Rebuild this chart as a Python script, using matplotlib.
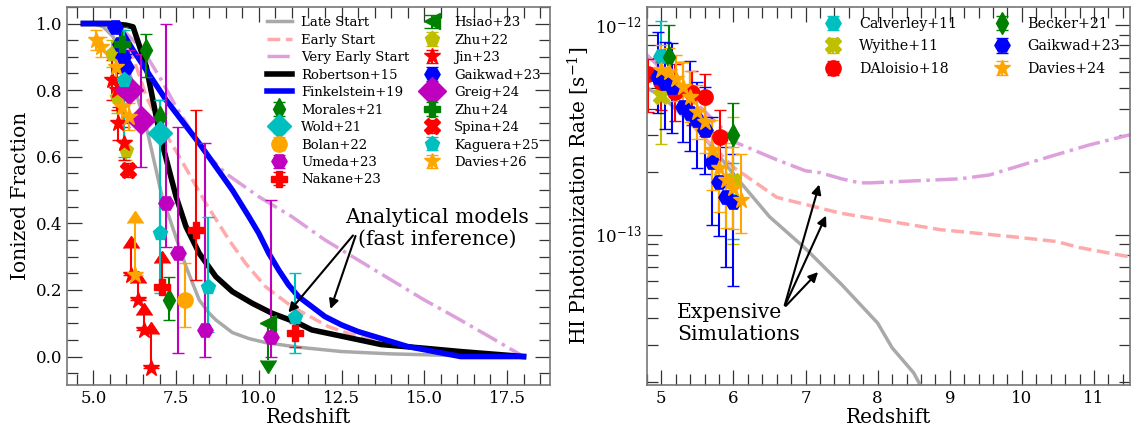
import numpy as np
import matplotlib
matplotlib.use('Agg')
import matplotlib.pyplot as plt
from matplotlib.ticker import MultipleLocator, NullFormatter, LogLocator

plt.rcParams['font.family'] = 'DejaVu Serif'
plt.rcParams['mathtext.fontset'] = 'dejavuserif'
plt.rcParams['xtick.direction'] = 'in'
plt.rcParams['ytick.direction'] = 'in'
plt.rcParams['xtick.top'] = True
plt.rcParams['ytick.right'] = True

# ---------------- left panel: ionized fraction models ----------------
late_z = [4.7, 5.0, 5.3, 5.6, 5.9, 6.2, 6.6, 7.1, 7.25, 7.8, 8.2, 8.5, 8.7, 9.2, 9.7, 10.2, 11.2, 12.5, 14.0, 16.0, 18.0]
late_x = [1.0, 1.0, 0.99, 0.96, 0.9, 0.82, 0.69, 0.47, 0.43, 0.27, 0.17, 0.13, 0.11, 0.072, 0.054, 0.042, 0.028, 0.015, 0.008, 0.003, 0.0]
early_z = [4.7, 5.3, 5.8, 6.2, 6.6, 7.0, 7.6, 8.0, 8.4, 9.1, 9.6, 10.2, 11.0, 12.1, 12.7, 13.5, 15.1, 16.5, 18.0]
early_x = [1.0, 1.0, 0.97, 0.9, 0.78, 0.7, 0.6, 0.53, 0.46, 0.35, 0.28, 0.21, 0.15, 0.09, 0.07, 0.045, 0.02, 0.008, 0.0]
vearly_z = [4.7, 5.5, 6.0, 6.5, 7.0, 7.5, 8.0, 8.4, 9.0, 10.0, 11.0, 12.0, 13.0, 14.0, 15.0, 16.0, 17.0, 18.0]
vearly_x = [1.0, 1.0, 0.97, 0.92, 0.84, 0.75, 0.67, 0.61, 0.55, 0.48, 0.42, 0.35, 0.29, 0.23, 0.17, 0.115, 0.058, 0.0]
rob_z = [4.7, 5.5, 6.0, 6.2, 6.6, 7.0, 7.5, 7.8, 8.2, 8.7, 9.2, 9.8, 10.4, 11.2, 11.6, 12.7, 13.7, 15.0, 16.1, 18.0]
rob_x = [1.0, 1.0, 0.995, 0.99, 0.87, 0.67, 0.48, 0.39, 0.31, 0.24, 0.195, 0.16, 0.13, 0.1, 0.08, 0.057, 0.036, 0.025, 0.015, 0.0]
fink_z = [4.7, 5.5, 5.9, 6.2, 7.2, 8.2, 9.2, 9.7, 10.0, 10.3, 10.6, 10.9, 11.2, 11.6, 12.0, 12.5, 13.0, 13.5, 14.5, 15.3, 16.1, 18.0]
fink_x = [1.0, 1.0, 0.97, 0.92, 0.77, 0.64, 0.5, 0.42, 0.37, 0.31, 0.26, 0.215, 0.18, 0.15, 0.12, 0.095, 0.075, 0.06, 0.03, 0.015, 0.0, 0.0]

# ---------------- left panel: observations ----------------
morales_z = [6.6, 7.0, 7.3]
morales_x = [0.92, 0.72, 0.17]
morales_lo = [0.08, 0.05, 0.06]
morales_hi = [0.05, 0.05, 0.07]
wold_z = [7.0]
wold_x = [0.67]
wold_lo = [0.3]
wold_hi = [0.1]
bolan_z = [7.76]
bolan_x = [0.17]
bolan_lo = [0.08]
bolan_hi = [0.11]
umeda_z = [7.2, 7.55, 8.36, 10.36]
umeda_x = [0.46, 0.31, 0.08, 0.06]
umeda_lo = [0.13, 0.30, 0.08, 0.06]
umeda_hi = [0.54, 0.38, 0.56, 0.41]
nakane_z = [8.1, 11.1]
nakane_x = [0.38, 0.07]
nakane_lo = [0.15, 0.04]
nakane_hi = [0.36, 0.03]
nakane_lim_z = [7.06]
nakane_lim_x = [0.21]
nakane_lim_len = [0.07]
hsiao_z = [10.27]
hsiao_x = [0.1]
hsiao_len = [0.11]
zhu22_z = [5.55, 5.7, 6.0]
zhu22_x = [0.91, 0.78, 0.62]
zhu22_err = [0.04, 0.05, 0.03]
jin_z = [5.57, 5.7, 5.73, 5.94]
jin_x = [0.83, 0.8, 0.7, 0.64]
jin_err = [0.06, 0.06, 0.05, 0.05]
jin_lim_z = [6.15, 6.36, 6.54, 6.75]
jin_lim_x = [0.246, 0.17, 0.08, -0.033]
jin_lim_len = [0.08, 0.05, 0.045, 0.1]
gaik_z = [5.65, 5.8, 5.9, 6.0]
gaik_x = [0.99, 0.94, 0.9, 0.87]
gaik_err = [0.01, 0.04, 0.05, 0.04]
greig_z = [6.09, 6.45]
greig_x = [0.8, 0.71]
greig_lo = [0.1, 0.14]
greig_hi = [0.12, 0.2]
zhu24_z = [5.85]
zhu24_x = [0.94]
zhu24_err = [0.05]
spina_z = [6.06]
spina_x = [0.56]
spina_err = [0.02]
kag_z = [5.94, 7.0, 8.45, 11.08]
kag_x = [0.83, 0.37, 0.21, 0.12]
kag_lo = [0.23, 0.18, 0.135, 0.11]
kag_hi = [0.15, 0.30, 0.21, 0.13]
dav26_z = [5.09, 5.24, 5.69, 5.88, 6.09]
dav26_x = [0.95, 0.93, 0.87, 0.75, 0.72]
dav26_err = [0.03, 0.03, 0.04, 0.04, 0.04]
dav26_lim_z = [6.27]
dav26_lim_x = [0.246]
dav26_lim_len = [0.155]

# ---------------- right panel: photoionization rate ----------------
g_late_z = [4.8, 5.0, 5.5, 6.0, 6.5, 7.0, 7.5, 8.0, 8.2, 8.5, 8.6]
g_late = [5.0e-13, 4.6e-13, 3.2e-13, 1.95e-13, 1.22e-13, 8.6e-14, 5.8e-14, 3.8e-14, 2.9e-14, 2.2e-14, 1.9e-14]
g_early_z = [5.2, 5.72, 6.0, 6.6, 7.48, 8.86, 9.87, 10.48, 10.8, 11.5]
g_early = [4.0e-13, 2.63e-13, 2.1e-13, 1.51e-13, 1.27e-13, 1.06e-13, 9.8e-14, 9.3e-14, 8.7e-14, 7.85e-14]
g_vearly_z = [4.8, 6.05, 6.6, 7.0, 7.2, 7.5, 7.75, 7.9, 9.14, 9.55, 10.24, 10.93, 11.5]
g_vearly = [7.2e-13, 2.74e-13, 2.28e-13, 2.02e-13, 1.98e-13, 1.85e-13, 1.77e-13, 1.77e-13, 1.85e-13, 1.93e-13, 2.28e-13, 2.68e-13, 3.0e-13]

calv_z = [5.0, 6.0]
calv_g = [7.1e-13, 1.45e-13]
calv_lo = [2.2e-13, 0.49e-13]
calv_hi = [3.3e-13, 0.75e-13]
wyithe_z = [5.0, 6.0]
wyithe_g = [4.6e-13, 1.8e-13]
wyithe_lo = [1.9e-13, 0.9e-13]
wyithe_hi = [2.5e-13, 1.85e-13]
dal_z = [4.81, 4.99, 5.19, 5.43, 5.61, 5.82]
dal_g = [5.85e-13, 5.35e-13, 4.8e-13, 4.75e-13, 4.55e-13, 2.93e-13]
dal_lo = [2.0e-13, 1.4e-13, 1.3e-13, 1.4e-13, 1.6e-13, 0.8e-13]
dal_hi = [1.0e-13, 1.3e-13, 1.7e-13, 1.3e-13, 1.3e-13, 1.0e-13]
becker_z = [5.1, 6.0]
becker_g = [7.05e-13, 3.0e-13]
becker_lo = [2.0e-13, 1.3e-13]
becker_hi = [3.0e-13, 1.25e-13]
gaik23_z = [4.95, 5.05, 5.15, 5.3, 5.4, 5.5, 5.6, 5.7, 5.8, 5.9, 6.0]
gaik23_g = [5.65e-13, 5.3e-13, 5.07e-13, 4.07e-13, 3.81e-13, 3.53e-13, 3.16e-13, 2.23e-13, 1.79e-13, 1.52e-13, 1.44e-13]
gaik23_lo = [1.85e-13, 2.1e-13, 2.0e-13, 1.3e-13, 1.3e-13, 1.45e-13, 1.2e-13, 1.11e-13, 0.8e-13, 0.82e-13, 0.87e-13]
gaik23_hi = [3.6e-13, 3.0e-13, 3.1e-13, 2.6e-13, 2.9e-13, 1.8e-13, 1.9e-13, 1.4e-13, 1.3e-13, 1.1e-13, 1.0e-13]
dav24_z = [5.0, 5.1, 5.2, 5.3, 5.4, 5.5, 5.6, 5.7, 5.8, 5.9, 6.0, 6.1]
dav24_g = [6.1e-13, 5.97e-13, 5.53e-13, 5.07e-13, 4.54e-13, 3.85e-13, 3.45e-13, 2.54e-13, 2.08e-13, 1.83e-13, 1.67e-13, 1.47e-13]
dav24_lo = [1.3e-13, 1.3e-13, 1.2e-13, 1.1e-13, 1.1e-13, 1.0e-13, 1.0e-13, 0.9e-13, 0.8e-13, 0.75e-13, 0.6e-13, 0.45e-13]
dav24_hi = [1.9e-13, 1.8e-13, 1.7e-13, 1.6e-13, 1.5e-13, 1.3e-13, 1.2e-13, 1.0e-13, 0.9e-13, 0.9e-13, 0.95e-13, 0.96e-13]


def style_axis(ax):
    for s in ax.spines.values():
        s.set_color('#777777')
        s.set_linewidth(1.2)
    ax.tick_params(which='major', length=11, width=0.9, labelsize=12, color='#333333')
    ax.tick_params(which='minor', length=8, width=0.9, color='#333333')


fig = plt.figure(figsize=(11.34, 4.30), dpi=100)
ax1 = fig.add_axes([0.059, 0.105, 0.426, 0.879])
ax2 = fig.add_axes([0.5705, 0.105, 0.426, 0.879])

# left panel
ax1.plot(late_z, late_x, color='darkgray', lw=2.5, label='Late Start')
ax1.plot(early_z, early_x, color='#ffaaaa', lw=2.5, ls='--', label='Early Start')
ax1.plot(vearly_z, vearly_x, color='plum', lw=2.5, ls='-.', label='Very Early Start')
ax1.plot(rob_z, rob_x, color='k', lw=4, label='Robertson+15')
ax1.plot(fink_z, fink_x, color='b', lw=4, label='Finkelstein+19')

cs = 4
ax1.errorbar(morales_z, morales_x, yerr=[morales_lo, morales_hi], fmt='d', color='g', ms=11, capsize=cs, label='Morales+21')
ax1.errorbar(wold_z, wold_x, yerr=[wold_lo, wold_hi], fmt='D', color='c', ms=12, capsize=cs, label='Wold+21')
ax1.errorbar(bolan_z, bolan_x, yerr=[bolan_lo, bolan_hi], fmt='o', color='orange', ms=11, capsize=cs, label='Bolan+22')
ax1.errorbar(umeda_z, umeda_x, yerr=[umeda_lo, umeda_hi], fmt='H', color='m', ms=11, capsize=cs, label='Umeda+23')
ax1.errorbar(nakane_z, nakane_x, yerr=[nakane_lo, nakane_hi], fmt='P', color='r', ms=11, capsize=cs, label='Nakane+23')
ax1.errorbar(nakane_lim_z, nakane_lim_x, yerr=nakane_lim_len, lolims=True, fmt='P', color='r', ms=11, capsize=6)
ax1.errorbar(hsiao_z, hsiao_x, yerr=hsiao_len, uplims=True, fmt='<', color='g', ms=11, capsize=6, label='Hsiao+23')
ax1.errorbar(zhu22_z, zhu22_x, yerr=zhu22_err, fmt='p', color='y', ms=11, capsize=cs, label='Zhu+22')
ax1.errorbar(jin_z, jin_x, yerr=jin_err, fmt='*', color='r', ms=12, capsize=cs, label='Jin+23')
ax1.errorbar(jin_lim_z, jin_lim_x, yerr=jin_lim_len, lolims=True, fmt='*', color='r', ms=12, capsize=6)
ax1.errorbar(gaik_z, gaik_x, yerr=gaik_err, fmt='H', color='b', ms=11, capsize=cs, label='Gaikwad+23')
ax1.errorbar(greig_z, greig_x, yerr=[greig_lo, greig_hi], fmt='D', color='m', ms=14, capsize=cs, label='Greig+24')
ax1.errorbar(zhu24_z, zhu24_x, yerr=zhu24_err, fmt='P', color='g', ms=11, capsize=cs, label='Zhu+24')
ax1.errorbar(spina_z, spina_x, yerr=spina_err, fmt='X', color='r', ms=12, capsize=cs, label='Spina+24')
ax1.errorbar(kag_z, kag_x, yerr=[kag_lo, kag_hi], fmt='p', color='c', ms=11, capsize=cs, label='Kaguera+25')
ax1.errorbar(dav26_z, dav26_x, yerr=dav26_err, fmt='*', color='orange', ms=12, capsize=cs, label='Davies+26')
ax1.errorbar(dav26_lim_z, dav26_lim_x, yerr=dav26_lim_len, lolims=True, fmt='*', color='orange', ms=12, capsize=6)

ax1.annotate('', xy=(10.84, 0.126), xytext=(12.9, 0.37),
             arrowprops=dict(arrowstyle='-|>', color='k', lw=1.5, mutation_scale=14))
ax1.annotate('', xy=(12.14, 0.135), xytext=(12.95, 0.37),
             arrowprops=dict(arrowstyle='-|>', color='k', lw=1.5, mutation_scale=14))
ax1.text(15.4, 0.385, 'Analytical models\n(fast inference)', ha='center', va='center', fontsize=14.7)

ax1.set_xlim(4.2, 18.8)
ax1.set_ylim(-0.085, 1.05)
ax1.xaxis.set_major_locator(MultipleLocator(2.5))
ax1.xaxis.set_minor_locator(MultipleLocator(0.5))
ax1.yaxis.set_major_locator(MultipleLocator(0.2))
ax1.yaxis.set_minor_locator(MultipleLocator(0.05))
ax1.set_xlabel('Redshift', fontsize=14.5, labelpad=1)
ax1.set_ylabel('Ionized Fraction', fontsize=14.5)
style_axis(ax1)
ax1.legend(ncol=2, loc='upper right', fontsize=9.5, frameon=False, handlelength=1.9,
           handletextpad=0.7, columnspacing=0.8, labelspacing=0.34, borderaxespad=0.3)

# right panel
ax2.plot(g_late_z, g_late, color='darkgray', lw=2.5)
ax2.plot(g_early_z, g_early, color='#ffaaaa', lw=2.5, ls='--')
ax2.plot(g_vearly_z, g_vearly, color='plum', lw=2.5, ls='-.')

ax2.errorbar(calv_z, calv_g, yerr=[calv_lo, calv_hi], fmt='H', color='c', ms=11, capsize=cs, label='Calverley+11')
ax2.errorbar(wyithe_z, wyithe_g, yerr=[wyithe_lo, wyithe_hi], fmt='X', color='y', ms=11, capsize=cs, label='Wyithe+11')
ax2.errorbar(dal_z, dal_g, yerr=[dal_lo, dal_hi], fmt='o', color='r', ms=11, capsize=cs, label='DAloisio+18')
ax2.errorbar(becker_z, becker_g, yerr=[becker_lo, becker_hi], fmt='d', color='g', ms=11, capsize=cs, label='Becker+21')
ax2.errorbar(gaik23_z, gaik23_g, yerr=[gaik23_lo, gaik23_hi], fmt='H', color='b', ms=11, capsize=cs, label='Gaikwad+23')
ax2.errorbar(dav24_z, dav24_g, yerr=[dav24_lo, dav24_hi], fmt='*', color='orange', ms=12, capsize=cs, label='Davies+24')

for tip in [(7.2, 1.79e-13), (7.3, 1.27e-13), (7.2, 6.8e-14)]:
    ax2.annotate('', xy=tip, xytext=(6.7, 4.49e-14),
                 arrowprops=dict(arrowstyle='-|>', color='k', lw=1.5, mutation_scale=14))
ax2.text(5.22, 4.75e-14, 'Expensive\nSimulations', ha='left', va='top', fontsize=14.7)

ax2.set_yscale('log')
ax2.set_xlim(4.8, 11.5)
ax2.set_ylim(1.93e-14, 1.22e-12)
ax2.xaxis.set_major_locator(MultipleLocator(1))
ax2.xaxis.set_minor_locator(MultipleLocator(0.2))
ax2.yaxis.set_major_locator(LogLocator(base=10))
ax2.yaxis.set_minor_locator(LogLocator(base=10, subs=np.arange(2, 10)))
ax2.yaxis.set_minor_formatter(NullFormatter())
ax2.set_xlabel('Redshift', fontsize=14.5, labelpad=1)
ax2.set_ylabel('HI Photoionization Rate [s$^{-1}$]', fontsize=14.5, labelpad=2)
style_axis(ax2)
ax2.legend(ncol=2, loc='upper right', fontsize=10.3, frameon=False, handlelength=2.2,
           handletextpad=0.7, columnspacing=2.0, labelspacing=0.6, borderaxespad=0.3)

fig.savefig('out.png', dpi=100)
